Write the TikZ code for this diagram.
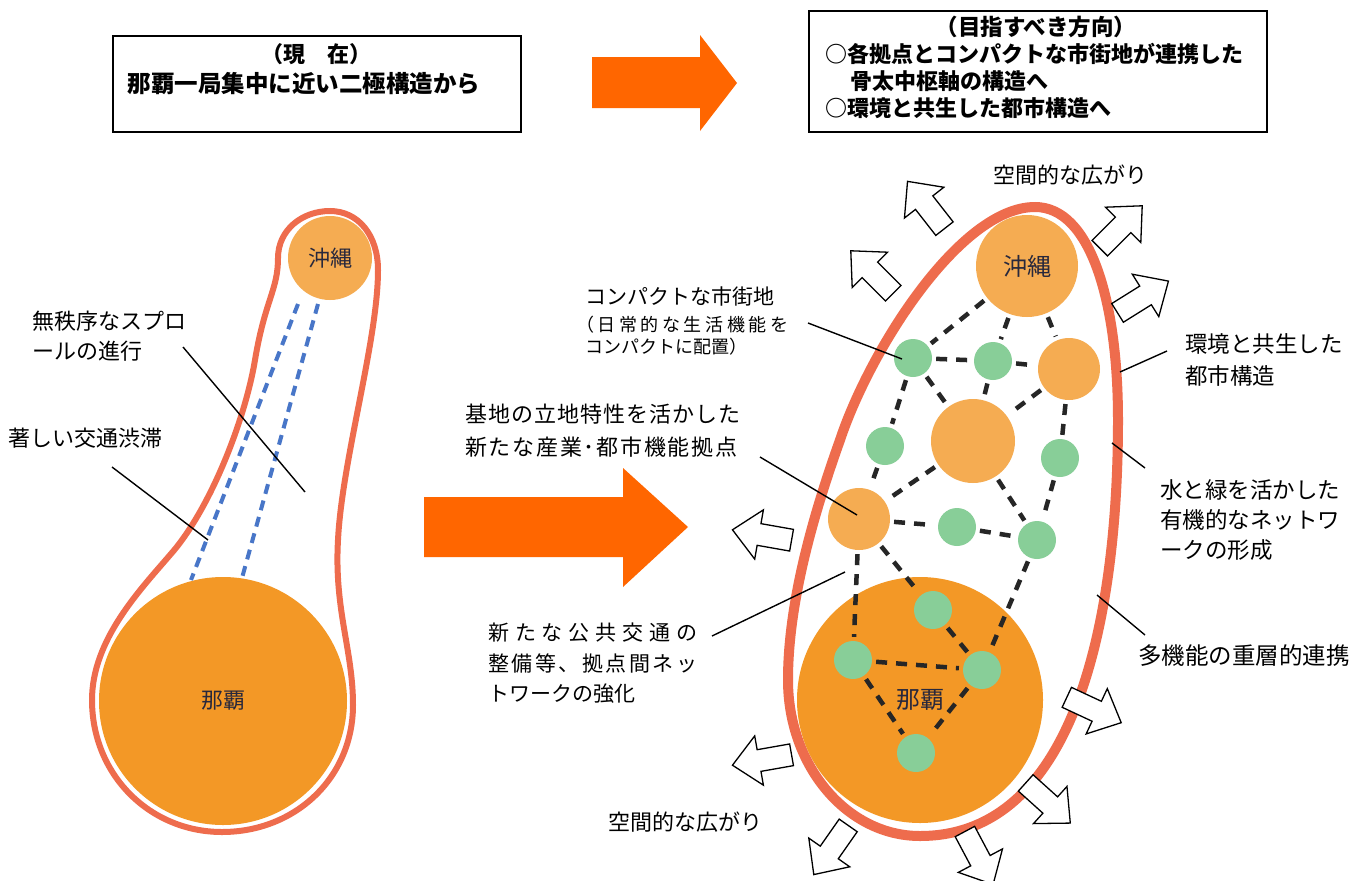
\documentclass[tikz,border=0pt]{standalone}
\usepackage{fontspec}
\newfontfamily\cjk{Noto Sans CJK JP}
\usetikzlibrary{calc}
\definecolor{rim}{RGB}{238,108,77}
\definecolor{arroworange}{RGB}{255,102,0}
\definecolor{nahaor}{RGB}{243,152,38}
\definecolor{orangelt}{RGB}{245,172,82}
\definecolor{greenc}{RGB}{136,206,152}
\definecolor{railblue}{RGB}{72,118,200}
\definecolor{labeltext}{RGB}{40,40,60}
\newcommand\jsp{\hfil}
\newcommand\harrowat[3]{\draw[harr,shift={(#1,#2)},rotate=#3] (-30,-11) -- (3,-11) -- (3,-25) -- (30,0) -- (3,25) -- (3,11) -- (-30,11) -- cycle;}
\begin{document}
\begin{tikzpicture}[x=1pt,y=-1pt,
  jp/.style={anchor=west,inner sep=0pt,font=\cjk\fontsize{#1}{#1}\selectfont},
  jpb/.style={anchor=center,inner sep=0pt,font=\cjk\bfseries\fontsize{#1}{#1}\selectfont},
  box/.style={draw=black,line width=1.5pt,fill=white,inner sep=0pt},
  ocirc/.style={circle,fill=orangelt,draw=none,minimum size=#1,inner sep=0pt},
  gcirc/.style={circle,fill=greenc,draw=none,minimum size=38pt,inner sep=0pt},
  ncirc/.style={circle,fill=nahaor,draw=none,minimum size=#1,inner sep=0pt},
  circlabel/.style={font=\cjk\fontsize{#1}{#1}\selectfont,text=labeltext},
  link/.style={draw=black!85,line width=4.5pt,dash pattern=on 11pt off 9pt,shorten <=4pt,shorten >=4pt},
  rail/.style={draw=railblue,line width=4pt,dash pattern=on 10pt off 7pt},
  leader/.style={draw=black,line width=1.4pt},
  harr/.style={draw=black,line width=1.3pt,fill=white,line join=miter}
]
\useasboundingbox[fill=white] (0,0) rectangle (1366,881);

% ---------- top boxes ----------
\node[box,minimum width=408pt,minimum height=96pt,anchor=north west] (lbox) at (112,35) {};
\node[jpb=22] (lt1) at (316,54) {（現　在）};
\node[jpb=23.5] (lt2) at (304,84) {那覇一局集中に近い二極構造から};

\node[box,minimum width=458pt,minimum height=121pt,anchor=north west] (rbox) at (808,10) {};
\node[jpb=22.5] (rt1) at (1036,27) {（目指すべき方向）};
\node[jpb=22,anchor=west] (rt2) at (825,54) {○各拠点とコンパクトな市街地が連携した};
\node[jpb=22,anchor=west] (rt3) at (850,81) {骨太中枢軸の構造へ};
\node[jpb=22,anchor=west] (rt4) at (825,108) {○環境と共生した都市構造へ};

% ---------- big orange arrows ----------
\fill[arroworange] (592,57) -- (700,57) -- (700,35) -- (737,83) -- (700,131) -- (700,108) -- (592,108) -- cycle;
\fill[arroworange] (424,497) -- (623,497) -- (623,468) -- (688,527) -- (623,587) -- (623,557) -- (424,557) -- cycle;

% ---------- left diagram ----------
\draw[draw=rim,line width=6pt,fill=white]
  (330,211) .. controls (358,211) and (378,235) .. (378,270)
  .. controls (378,340) and (342,460) .. (338,540)
  .. controls (334,610) and (353,650) .. (353,705)
  .. controls (353,778) and (295,832) .. (222,832)
  .. controls (150,832) and (92,775) .. (92,700)
  .. controls (92,640) and (140,590) .. (170,555)
  .. controls (210,510) and (245,420) .. (255,360)
  .. controls (265,300) and (278,290) .. (278,258)
  .. controls (278,230) and (302,211) .. cycle;
\node[ncirc=248pt,circlabel=22] (lNH) at (223,701) {那覇};
\node[ocirc=84pt,circlabel=22] (lOK) at (330,258) {沖縄};
\coordinate (r1a) at (298,304);
\coordinate (r1b) at (191,580);
\coordinate (r2a) at (318,304);
\coordinate (r2b) at (242,578);
\draw[rail] (r1a) -- (r1b);
\draw[rail] (r2a) -- (r2b);

\node[jp=22] (ls1) at (32,321) {無秩序なスプロ};
\node[jp=22] (ls2) at (32,351) {ールの進行};
\node[jp=22] (ltc) at (8,438) {著しい交通渋滞};
\coordinate (ld1a) at (183,347);
\coordinate (ld1b) at (305,492);
\coordinate (ld2a) at (112,467);
\coordinate (ld2b) at (208,540);
\draw[leader] (ld1a) -- (ld1b);
\draw[leader] (ld2a) -- (ld2b);

% ---------- right diagram ----------
\draw[draw=rim,line width=10pt,fill=white]
  (1035,207) .. controls (1090,207) and (1118,300) .. (1118,420)
  .. controls (1118,620) and (1075,836) .. (920,836)
  .. controls (847,836) and (788,766) .. (788,680)
  .. controls (788,600) and (815,510) .. (840,440)
  .. controls (870,350) and (960,207) .. cycle;

\node[ncirc=246pt,circlabel=24] (NH) at (920,700) {那覇};
\node[ocirc=102pt,circlabel=24] (OK) at (1027,266) {沖縄};
\node[gcirc] (A) at (913,358) {};
\node[gcirc] (B) at (993,361) {};
\node[ocirc=62pt] (C) at (1069,369) {};
\node[ocirc=84pt] (D) at (973,441) {};
\node[gcirc] (E) at (885,446) {};
\node[gcirc] (F) at (1060,458) {};
\node[ocirc=62pt] (G) at (859,519) {};
\node[gcirc] (H) at (957,527) {};
\node[gcirc] (I) at (1037,540) {};
\node[gcirc] (J) at (933,610) {};
\node[gcirc] (K) at (853,660) {};
\node[gcirc] (L) at (982,670) {};
\node[gcirc] (M) at (916,753) {};

\draw[link] (OK) -- (A);
\draw[link] (OK) -- (B);
\draw[link] (OK) -- (C);
\draw[link] (A) -- (B);
\draw[link] (B) -- (C);
\draw[link] (A) -- (D);
\draw[link] (B) -- (D);
\draw[link] (C) -- (D);
\draw[link] (A) -- (E);
\draw[link] (C) -- (F);
\draw[link] (E) -- (G);
\draw[link] (D) -- (G);
\draw[link] (G) -- (H);
\draw[link] (H) -- (I);
\draw[link] (D) -- (I);
\draw[link] (F) -- (I);
\draw[link] (G) -- (K);
\draw[link] (G) -- (J);
\draw[link] (I) -- (L);
\draw[link] (J) -- (L);
\draw[link] (K) -- (L);
\draw[link] (K) -- (M);
\draw[link] (L) -- (M);

% hollow arrows
\harrowat{926}{205}{128}
\harrowat{872}{272}{135}
\harrowat{1121}{227}{45}
\harrowat{1143}{297}{32}
\harrowat{762}{535}{170}
\harrowat{762}{760}{190}
\harrowat{1094}{710}{-25}
\harrowat{1048}{803}{-42}
\harrowat{831}{850}{-125}
\harrowat{979}{858}{-62}

\node[jp=22] (sp1) at (993,175) {空間的な広がり};
\node[jp=22] (sp2) at (608,822) {空間的な広がり};

% labels left of right diagram
\node[jp=21] (cp1) at (585,296) {コンパクトな市街地};
\node[jp=18] (cp2) at (576,325) {\makebox[212pt][s]{（\jsp 日\jsp 常\jsp 的\jsp な\jsp 生\jsp 活\jsp 機\jsp 能\jsp を}};
\node[jp=18] (cp3) at (585,347) {コンパクトに配置）};
\coordinate (cpa) at (808,323);
\coordinate (cpb) at (902,359);
\draw[leader] (cpa) -- (cpb);

\node[jp=22] (kc1) at (465,414) {\makebox[275pt][s]{基\jsp 地\jsp の\jsp 立\jsp 地\jsp 特\jsp 性\jsp を\jsp 活\jsp か\jsp し\jsp た}};
\node[jp=22] (kc2) at (465,447) {\makebox[272pt][s]{新\jsp た\jsp な\jsp 産\jsp 業\jsp ･\jsp 都\jsp 市\jsp 機\jsp 能\jsp 拠\jsp 点}};
\coordinate (kca) at (760,457);
\coordinate (kcb) at (857,515);
\draw[leader] (kca) -- (kcb);

\node[jp=21] (pt1) at (488,633) {\makebox[209pt][s]{新\jsp た\jsp な\jsp 公\jsp 共\jsp 交\jsp 通\jsp の}};
\node[jp=21] (pt2) at (488,663) {\makebox[209pt][s]{整\jsp 備\jsp 等\jsp 、\jsp 拠\jsp 点\jsp 間\jsp ネ\jsp ッ}};
\node[jp=21] (pt3) at (488,694) {トワークの強化};
\coordinate (pta) at (712,636);
\coordinate (ptb) at (845,572);
\draw[leader] (pta) -- (ptb);

% labels right of right diagram
\node[jp=22.5] (ev1) at (1185,344) {環境と共生した};
\node[jp=22.5] (ev2) at (1185,376) {都市構造};
\coordinate (eva) at (1167,351);
\coordinate (evb) at (1120,372);
\draw[leader] (eva) -- (evb);

\node[jp=22.5] (wg1) at (1160,490) {水と緑を活かした};
\node[jp=22.5] (wg2) at (1160,520) {有機的なネットワ};
\node[jp=22.5] (wg3) at (1160,550) {ークの形成};
\coordinate (wga) at (1112,443);
\coordinate (wgb) at (1145,468);
\draw[leader] (wga) -- (wgb);

\node[jp=23.5] (mf) at (1138,656) {多機能の重層的連携};
\coordinate (mfa) at (1097,595);
\coordinate (mfb) at (1145,635);
\draw[leader] (mfa) -- (mfb);
\end{tikzpicture}
\end{document}
